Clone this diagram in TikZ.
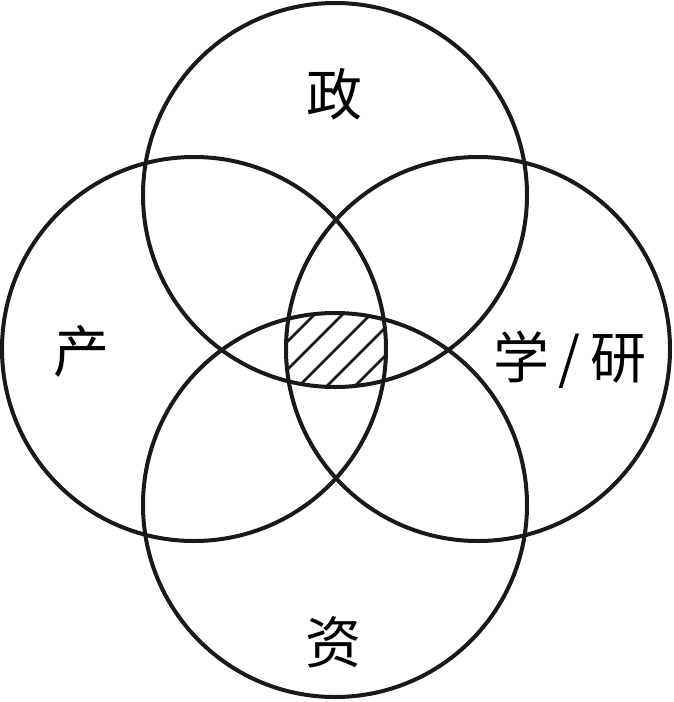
\documentclass[tikz,border=0pt]{standalone}
\usepackage{fontspec}
\newfontfamily\cjk{Noto Sans CJK SC}
\usetikzlibrary{calc}

\begin{document}
\begin{tikzpicture}[
			x = 1pt, y = -1pt,
			ring/.style = {draw = black!90, line width = 4pt},
			hatch/.style = {draw = black!90, line width = 2.8pt},
			label/.style = {font = \cjk\fontsize{56}{56}\selectfont, inner sep = 0pt}]
			\useasboundingbox (0,0) rectangle (673,702);
			\coordinate (zheng) at (335,195);
			\coordinate (chan) at (194,349);
			\coordinate (xue) at (478,349);
			\coordinate (zi) at (335,505);
	
			% hatched core
			\begin{scope}
				\clip (zheng) circle[radius=192];
				\clip (chan) circle[radius=192];
				\clip (xue) circle[radius=192];
				\clip (zi) circle[radius=192];
				\foreach \i in {-5,...,5}
					\draw[hatch] ($(335,350)+(\i*28,0)+(-80,80)$) -- ++(160,-160);
			\end{scope}
	
			\foreach \c in {zheng, chan, xue, zi}
				\draw[ring] (\c) circle[radius=192];
	
			% Labels
			\node[label] (lzheng) at (334,94) {政};
			\node[label] (lchan) at (81,351) {产};
			\node[label] (lxue) at (570,360) {学\,/\,研};
			\node[label] (lzi) at (333,642) {资};
		\end{tikzpicture}
\end{document}
